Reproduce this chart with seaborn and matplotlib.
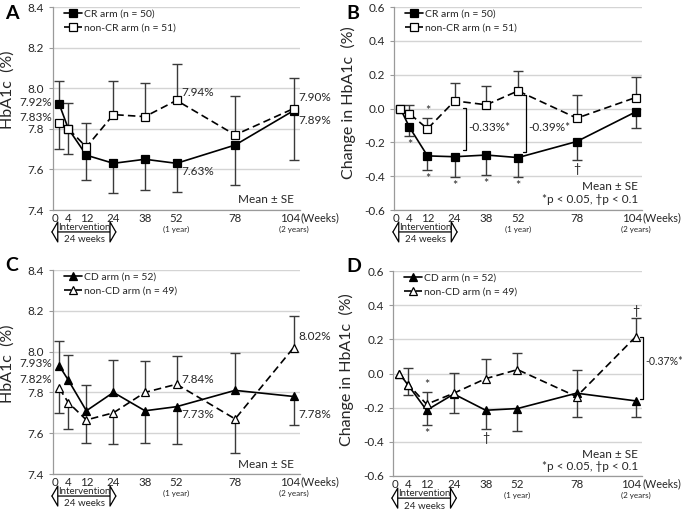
import matplotlib
matplotlib.use("Agg")
import matplotlib.pyplot as plt
import matplotlib.transforms as mtransforms
import seaborn as sns

# --- DATA ---
WEEKS = [0, 4, 12, 24, 38, 52, 78, 104]
WEEK_LABELS = ["0", "4", "12", "24", "38", "52", "78", "104"]

# A: HbA1c, CR vs non-CR (SE sign = direction the bar is drawn)
cr_a = [7.92, 7.80, 7.67, 7.63, 7.65, 7.63, 7.72, 7.89]
cr_a_se = [0.115, -0.125, -0.12, -0.148, -0.15, -0.142, -0.196, -0.245]
noncr_a = [7.83, 7.80, 7.71, 7.87, 7.86, 7.94, 7.77, 7.90]
noncr_a_se = [-0.13, 0.128, 0.12, 0.164, 0.168, 0.18, 0.19, 0.148]

# B: change in HbA1c, CR vs non-CR
cr_b = [0.00, -0.11, -0.28, -0.285, -0.275, -0.29, -0.195, -0.02]
cr_b_se = [0, -0.05, -0.085, -0.117, -0.116, -0.115, -0.108, -0.095]
noncr_b = [0.00, -0.03, -0.12, 0.045, 0.022, 0.104, -0.057, 0.065]
noncr_b_se = [0, 0.052, 0.065, 0.103, 0.112, 0.118, 0.136, 0.122]
sig_b_cr = ["", "*", "*", "*", "*", "*", "\u2020", ""]
sig_b_noncr = ["", "", "*", "", "", "", "", ""]

# C: HbA1c, CD vs non-CD
cd_c = [7.93, 7.86, 7.71, 7.80, 7.71, 7.73, 7.81, 7.78]
cd_c_se = [0.123, 0.122, 0.126, 0.16, -0.157, -0.185, 0.183, -0.14]
noncd_c = [7.82, 7.75, 7.665, 7.70, 7.80, 7.84, 7.67, 8.02]
noncd_c_se = [-0.12, -0.128, -0.111, -0.152, 0.156, 0.139, -0.165, 0.155]

# D: change in HbA1c, CD vs non-CD
cd_d = [0.00, -0.07, -0.215, -0.12, -0.215, -0.205, -0.115, -0.16]
cd_d_se = [0, -0.055, -0.088, -0.113, -0.111, -0.131, 0.133, -0.094]
noncd_d = [0.00, -0.065, -0.18, -0.115, -0.03, 0.023, -0.135, 0.215]
noncd_d_se = [0, 0.097, 0.069, 0.117, 0.117, 0.098, -0.117, 0.111]
sig_d_cd = ["", "", "*", "", "\u2020", "", "", ""]
sig_d_noncd = ["", "", "*", "", "", "", "", "\u2020"]

DIFF_B = ["-0.33%*", "-0.39%*"]
DIFF_D = ["-0.37%*"]

# --- STYLE ---
sns.set_theme(style="white")
plt.rcParams["font.family"] = ["Lato", "DejaVu Sans"]
TXT = "#262626"
GRID = "#d4d4d4"
SPINE = "#9a9a9a"
ERR = "#3a3a3a"
XLIM = (-2.8, 106.8)


def draw_series(ax, y, se, marker, filled, dashed, label, z):
    for x, v, e in zip(WEEKS, y, se):
        if e == 0:
            continue
        ax.vlines(x, v, v + e, color=ERR, lw=1.0, zorder=2)
        ax.plot([x], [v + e], marker="_", ms=6.5, mew=1.0, color=ERR, zorder=2)
    sns.lineplot(x=WEEKS, y=y, ax=ax, color="black", lw=1.2,
                 linestyle=(0, (4.5, 2.5)) if dashed else "-",
                 marker=marker, ms=5.5 if marker == "s" else 6.2,
                 markerfacecolor="black" if filled else "white",
                 markeredgecolor="black", markeredgewidth=0.9,
                 label=label, zorder=z)


def frame(ax, ylim, yticks, ylabel, label_y):
    ax.set_xlim(*XLIM)
    ax.set_ylim(*ylim)
    ax.set_yticks(yticks)
    ax.set_yticklabels([f"{t:.1f}" for t in yticks], color=TXT, fontsize=8.5)
    ax.set_xticks(WEEKS)
    ax.set_xticklabels(WEEK_LABELS, color=TXT, fontsize=8.3)
    ax.tick_params(axis="x", length=0, pad=2)
    ax.tick_params(axis="y", length=3, width=0.8, color=SPINE, pad=3.5, left=True)
    # first and last week labels sit a little left of their points
    shift = mtransforms.ScaledTranslation(-0.04, 0, ax.figure.dpi_scale_trans)
    xlabels = ax.get_xticklabels()
    for lbl in (xlabels[0], xlabels[-1]):
        lbl.set_transform(lbl.get_transform() + shift)
    ax.grid(axis="y", color=GRID, lw=1.0)
    ax.grid(axis="x", visible=False)
    for s in ["top", "right"]:
        ax.spines[s].set_visible(False)
    for s in ["left", "bottom"]:
        ax.spines[s].set_color(SPINE)
        ax.spines[s].set_linewidth(0.9)
    ax.set_ylabel(ylabel, fontsize=11.5, color=TXT)
    ax.yaxis.set_label_coords(-0.155, label_y)
    ax.set_xlabel("")
    tr = ax.get_xaxis_transform()
    ax.text(107.2, -0.012, "(Weeks)", transform=tr, ha="left", va="top",
            fontsize=7.8, color=TXT, clip_on=False)
    ax.text(52, -0.094, "(1 year)", transform=tr, ha="center", va="center",
            fontsize=5.8, color=TXT, clip_on=False)
    ax.text(104, -0.094, "(2 years)", transform=tr, ha="center", va="center",
            fontsize=5.8, color=TXT, clip_on=False)
    ax.annotate("", xy=(-3.6, -0.108), xytext=(25.4, -0.108), xycoords=tr,
                textcoords=tr, annotation_clip=False,
                arrowprops=dict(arrowstyle="<|-|>,head_length=0.35,head_width=0.6",
                                fc="white", ec="black", lw=0.9, shrinkA=0, shrinkB=0))
    ax.text(11, -0.085, "Intervention", transform=tr, ha="center", va="center",
            fontsize=7, color=TXT, clip_on=False)
    ax.text(11, -0.147, "24 weeks", transform=tr, ha="center", va="center",
            fontsize=7, color=TXT, clip_on=False)
    ax.legend(loc="upper left", bbox_to_anchor=(0.045, 0.99), frameon=False,
              fontsize=7.5, handlelength=1.7, handletextpad=0.2,
              labelspacing=0.45, borderpad=0, borderaxespad=0)


def sig_marks(ax, y, se, marks):
    for x, v, e, m in zip(WEEKS, y, se, marks):
        if not m:
            continue
        off = 7 if e > 0 else -9
        ax.annotate(m, (x, v + e), xytext=(0, off), textcoords="offset pixels",
                    ha="center", va="center", fontsize=9, color=TXT)


def bracket(ax, x, top, bot, text, ty, fs=8.5):
    ax.plot([x - 1.2, x, x, x - 1.2], [top, top, bot, bot], color="black",
            lw=0.9, clip_on=False)
    ax.text(x + 1.0, ty, text, ha="left", va="center", fontsize=fs, color=TXT,
            clip_on=False)


def value_label(ax, week, v, dx, dy, ha):
    i = WEEKS.index(week)
    ax.annotate(f"{v[i]:.2f}%", (week, v[i]), xytext=(dx, dy),
                textcoords="offset pixels", ha=ha, va="center",
                fontsize=8.5, color=TXT, annotation_clip=False)


fig = plt.figure(figsize=(6.85, 5.11), dpi=100)
ax_a = fig.add_axes([0.0774, 0.589, 0.3606, 0.3973])
ax_b = fig.add_axes([0.5752, 0.589, 0.362, 0.3973])
ax_c = fig.add_axes([0.0774, 0.0724, 0.3606, 0.3992])
ax_d = fig.add_axes([0.5737, 0.0685, 0.3635, 0.401])

abs_ticks = [7.4, 7.6, 7.8, 8.0, 8.2, 8.4]
chg_ticks = [-0.6, -0.4, -0.2, 0.0, 0.2, 0.4, 0.6]

# --- A ---
draw_series(ax_a, cr_a, cr_a_se, "s", True, False, "CR arm (n = 50)", 3)
draw_series(ax_a, noncr_a, noncr_a_se, "s", False, True, "non-CR arm (n = 51)", 4)
frame(ax_a, (7.4, 8.4), abs_ticks, "HbA1c  (%)", 0.59)
value_label(ax_a, 0, cr_a, -7, 2, "right")
value_label(ax_a, 0, noncr_a, -7, 5, "right")
value_label(ax_a, 52, noncr_a, 5, 8, "left")
value_label(ax_a, 52, cr_a, 5, -8, "left")
value_label(ax_a, 104, noncr_a, 5, 11, "left")
value_label(ax_a, 104, cr_a, 5, -10, "left")
ax_a.text(0.975, 0.05, "Mean \u00b1 SE", transform=ax_a.transAxes, ha="right",
          va="center", fontsize=8.5, color=TXT)

# --- B ---
draw_series(ax_b, cr_b, cr_b_se, "s", True, False, "CR arm (n = 50)", 3)
draw_series(ax_b, noncr_b, noncr_b_se, "s", False, True, "non-CR arm (n = 51)", 4)
frame(ax_b, (-0.6, 0.6), chg_ticks, "Change in HbA1c  (%)", 0.53)
sig_marks(ax_b, cr_b, cr_b_se, sig_b_cr)
sig_marks(ax_b, noncr_b, noncr_b_se, sig_b_noncr)
bracket(ax_b, 28.8, noncr_b[3] - 0.04, cr_b[3] + 0.04, DIFF_B[0], -0.11)
bracket(ax_b, 55.6, noncr_b[5] - 0.024, cr_b[5] + 0.034, DIFF_B[1], -0.11)
ax_b.text(0.985, 0.115, "Mean \u00b1 SE", transform=ax_b.transAxes, ha="right",
          va="center", fontsize=8.5, color=TXT)
ax_b.text(0.985, 0.05, "*p < 0.05, \u2020p < 0.1", transform=ax_b.transAxes,
          ha="right", va="center", fontsize=8.5, color=TXT)

# --- C ---
draw_series(ax_c, cd_c, cd_c_se, "^", True, False, "CD arm (n = 52)", 3)
draw_series(ax_c, noncd_c, noncd_c_se, "^", False, True, "non-CD arm (n = 49)", 4)
frame(ax_c, (7.4, 8.4), abs_ticks, "HbA1c  (%)", 0.54)
value_label(ax_c, 0, cd_c, -7, 2, "right")
value_label(ax_c, 0, noncd_c, -7, 9, "right")
value_label(ax_c, 52, noncd_c, 5, 5, "left")
value_label(ax_c, 52, cd_c, 5, -8, "left")
value_label(ax_c, 104, noncd_c, 5, 11, "left")
value_label(ax_c, 104, cd_c, 5, -18, "left")
ax_c.text(0.975, 0.045, "Mean \u00b1 SE", transform=ax_c.transAxes, ha="right",
          va="center", fontsize=8.5, color=TXT)

# --- D ---
draw_series(ax_d, cd_d, cd_d_se, "^", True, False, "CD arm (n = 52)", 3)
draw_series(ax_d, noncd_d, noncd_d_se, "^", False, True, "non-CD arm (n = 49)", 4)
frame(ax_d, (-0.6, 0.6), chg_ticks, "Change in HbA1c  (%)", 0.52)
sig_marks(ax_d, cd_d, cd_d_se, sig_d_cd)
sig_marks(ax_d, noncd_d, noncd_d_se, sig_d_noncd)
bracket(ax_d, 107.3, noncd_d[7], cd_d[7] + 0.011, DIFF_D[0], 0.07, fs=7.6)
ax_d.text(0.985, 0.105, "Mean \u00b1 SE", transform=ax_d.transAxes, ha="right",
          va="center", fontsize=8.5, color=TXT)
ax_d.text(0.985, 0.045, "*p < 0.05, \u2020p < 0.1", transform=ax_d.transAxes,
          ha="right", va="center", fontsize=8.5, color=TXT)

# panel letters
for letter, x, y in [("A", 0.008, 0.973), ("B", 0.505, 0.973),
                     ("C", 0.008, 0.48), ("D", 0.505, 0.478)]:
    fig.text(x, y, letter, fontsize=14, fontweight="bold", color="black",
             ha="left", va="center")

fig.savefig("out.png", dpi=100)
